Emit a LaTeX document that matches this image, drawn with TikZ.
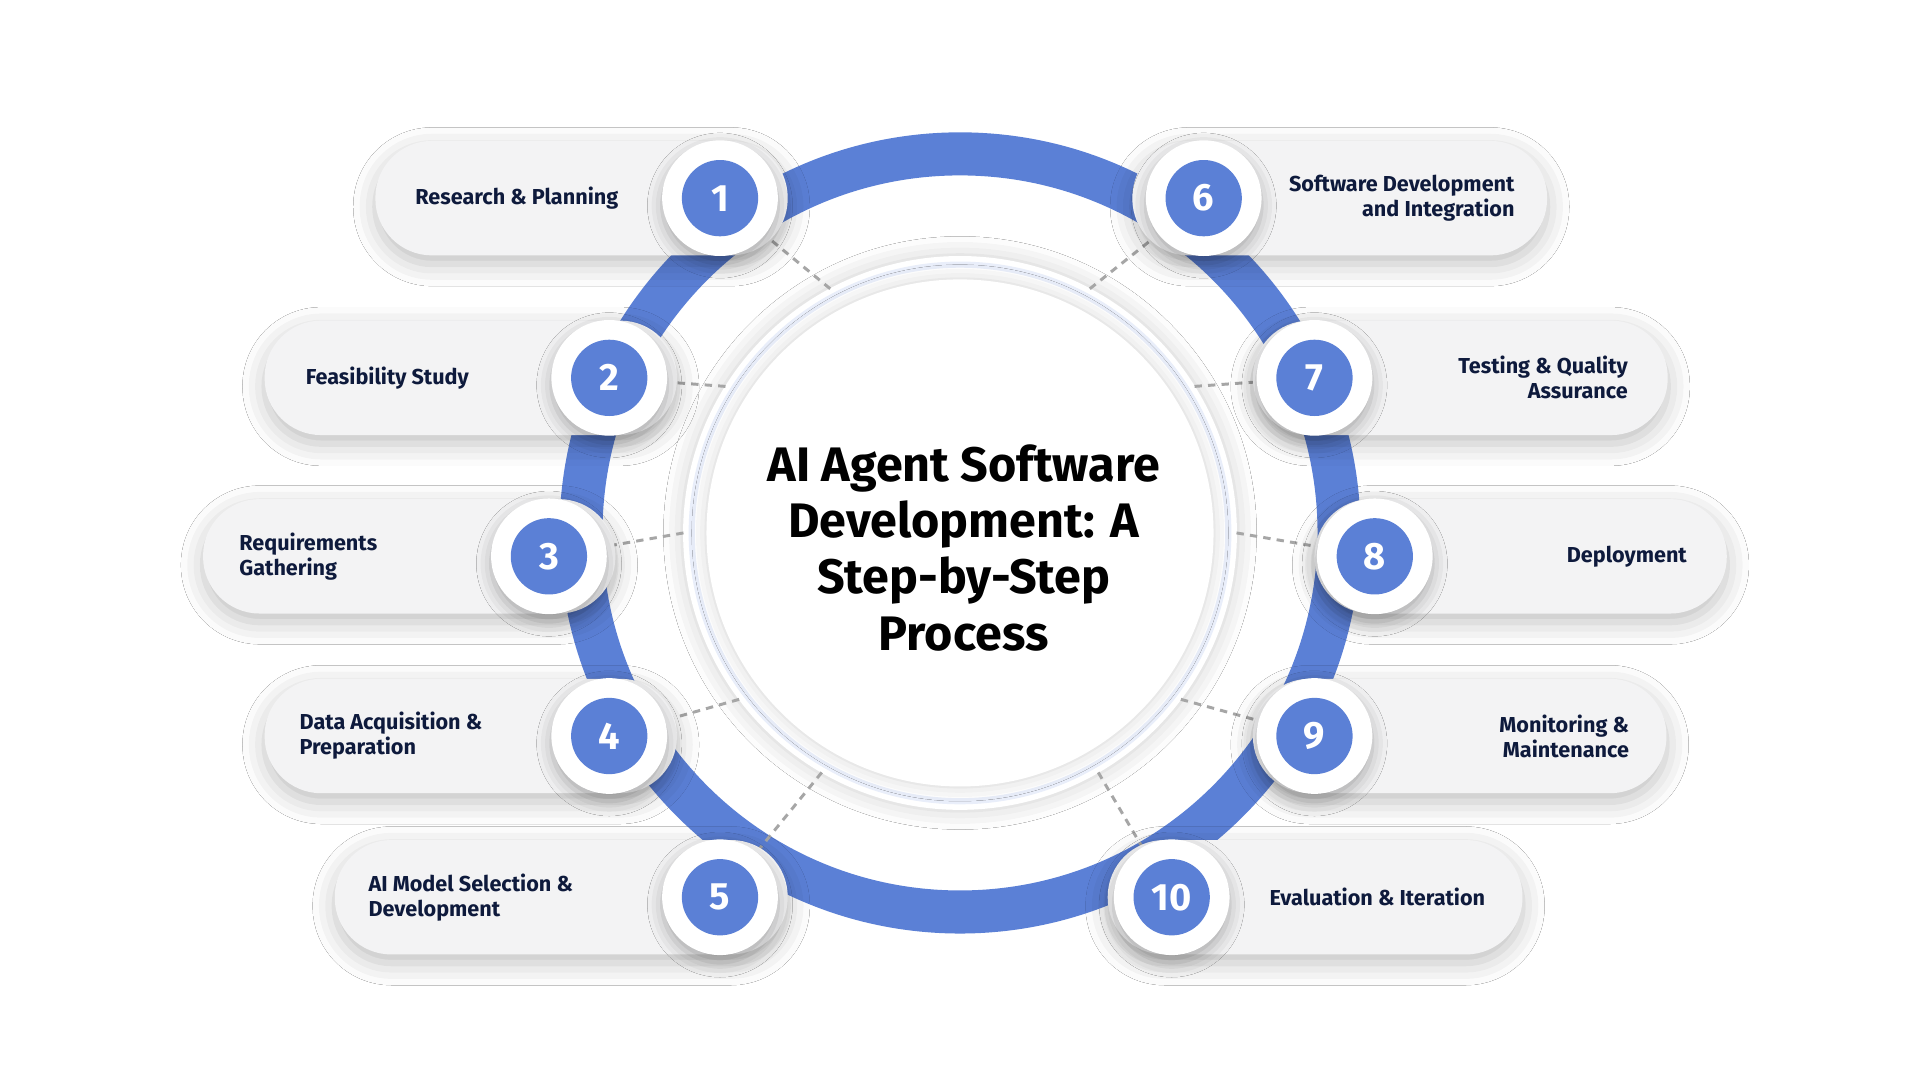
\documentclass[tikz,border=0pt]{standalone}
\usepackage{fontspec}
\setmainfont{Fira Sans}
\usetikzlibrary{positioning,shadows.blur,calc}
\definecolor{ringblue}{HTML}{5B80D6}
\definecolor{navy}{HTML}{0E1A3C}
\definecolor{pillgray}{HTML}{F3F3F4}
\definecolor{haloblue}{HTML}{E9EEFA}
\tikzset{
  pill/.style={rounded corners=2.3cm, fill=pillgray, minimum height=4.65cm,
    blur shadow={shadow xshift=0cm, shadow yshift=-0.35cm, shadow blur radius=0.9cm, shadow opacity=25}},
  badge/.style={circle, fill=white, minimum size=4.7cm,
    blur shadow={shadow xshift=0cm, shadow yshift=-0.3cm, shadow blur radius=0.6cm, shadow opacity=30}},
  num/.style={circle, fill=ringblue, minimum size=3.1cm, text=white, font=\fontsize{44}{44}\selectfont\bfseries},
  lbl/.style={text=navy, font=\fontsize{25}{29}\selectfont\bfseries},
  link/.style={gray!70, dashed, line width=0.12cm, dash pattern=on 0.3cm off 0.25cm}
}
\begin{document}
\begin{tikzpicture}[x=0.05cm, y=-0.05cm]
  \useasboundingbox[fill=white] (0,0) rectangle (1560,877.5);
  % big ring behind everything
  \draw[ringblue, line width=1.75cm] (780,433) circle[radius=15.4cm];
  \node[circle, fill=white, minimum size=22.5cm,
    blur shadow={shadow xshift=0cm, shadow yshift=0cm, shadow blur radius=0.8cm, shadow opacity=20}] (halo) at (780,433) {};
  \draw[haloblue, line width=0.25cm] (halo) circle[radius=10.9cm];
  \node[circle, fill=white, minimum size=20.6cm,
    blur shadow={shadow xshift=0cm, shadow yshift=0cm, shadow blur radius=0.6cm, shadow opacity=18}] (core) at (780,433) {};
  \node[align=center, font=\fontsize{56}{65}\selectfont\bfseries, text=black] (title) at (783,445)
    {AI Agent Software\\Development: A\\Step-by-Step\\Process};
  % steps: number / y / badge x / pill left / pill right / angle
  \foreach \i/\y/\cx/\l/\r/\a in {1/161/585/305/640/118, 2/307/495/215/550/148, 3/452/446/165/500/180,
      4/598/495/215/550/217, 5/729/585/272/640/240, 6/161/978/920/1257/62, 7/307/1068/1018/1355/32,
      8/452/1117/1068/1403/0, 9/598/1068/1018/1354/323, 10/729/952/900/1237/300}{
    \pgfmathsetmacro{\w}{(\r-\l)*0.05}
    \draw[link] ($(core.center)!1.09!(core.\a)$) -- (\cx,\y);
    \node[pill, minimum width=\w cm] (p\i) at ({(\l+\r)/2},\y) {};
    \node[badge] (b\i) at (\cx,\y) {};
    \node[num] (n\i) at (b\i) {\i};
  }
  % labels
  \node[lbl, anchor=west, align=left] (t1) at (335,161) {Research \& Planning};
  \node[lbl, anchor=west, align=left] (t2) at (246,307) {Feasibility Study};
  \node[lbl, anchor=west, align=left] (t3) at (192,452) {Requirements\\Gathering};
  \node[lbl, anchor=west, align=left] (t4) at (241,598) {Data Acquisition \&\\Preparation};
  \node[lbl, anchor=west, align=left] (t5) at (297,729) {AI Model Selection \&\\Development};
  \node[lbl, anchor=east, align=right] (t6) at (1233,161) {Software Development\\and Integration};
  \node[lbl, anchor=east, align=right] (t7) at (1325,307) {Testing \& Quality\\Assurance};
  \node[lbl, anchor=east, align=right] (t8) at (1373,452) {Deployment};
  \node[lbl, anchor=east, align=right] (t9) at (1326,598) {Monitoring \&\\Maintenance};
  \node[lbl, anchor=west, align=left] (t10) at (1029,729) {Evaluation \& Iteration};
\end{tikzpicture}
\end{document}
